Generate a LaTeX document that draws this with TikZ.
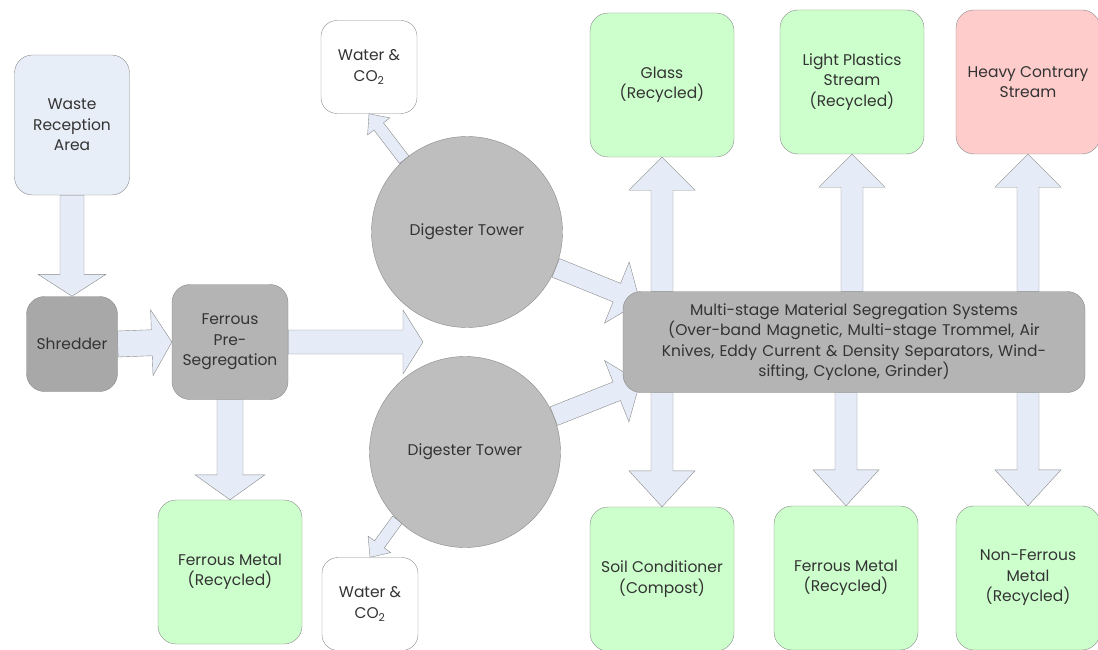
\documentclass[tikz,border=0pt]{standalone}
\usepackage{fontspec}
\setmainfont{Poppins}
\usepackage{tikz}
\usetikzlibrary{calc,backgrounds}

\definecolor{recycgreen}{HTML}{CCFFCC}
\definecolor{contrapink}{HTML}{FFCCCC}
\definecolor{inblue}{HTML}{E8EEF8}
\definecolor{flowblue}{HTML}{E6ECF7}
\definecolor{procgrey}{HTML}{B4B4B4}
\definecolor{shredgrey}{HTML}{A8A8A8}
\definecolor{towergrey}{HTML}{BEBEBE}
\definecolor{edgegrey}{HTML}{8A8A8A}

% block arrow: start, tip, shaft half-width, head half-width, head length
\newcommand{\blockarrow}[5]{%
  \path (#1) coordinate (ba-s) (#2) coordinate (ba-t);
  \coordinate (ba-h) at ($(ba-t)!#5!(ba-s)$);
  \draw[flow] ($(ba-s)!#3!90:(ba-t)$) -- ($(ba-h)!#3!90:(ba-t)$)
    -- ($(ba-h)!#4!90:(ba-t)$) -- (ba-t) -- ($(ba-h)!#4!-90:(ba-t)$)
    -- ($(ba-h)!#3!-90:(ba-t)$) -- ($(ba-s)!#3!-90:(ba-t)$) -- cycle;}

\begin{document}
\begin{tikzpicture}[
    x=1pt, y=-1pt,
    box/.style={draw=edgegrey,rounded corners=18pt,align=center,inner sep=2pt,
                font=\fontsize{15.5}{20.5}\selectfont,text=black!80},
    recyc/.style={box,fill=recycgreen,minimum width=144pt,minimum height=144pt},
    proc/.style={box,fill=procgrey},
    gas/.style={box,fill=white,minimum width=96pt,minimum height=93pt,
                rounded corners=16pt},
    tower/.style={circle,draw=edgegrey,fill=towergrey,minimum size=191pt,
                  font=\fontsize{15.5}{20.5}\selectfont,text=black!80},
    flow/.style={draw=edgegrey,fill=flowblue,line join=miter},
  ]
  \useasboundingbox (0,0) rectangle (1098,650);

  % --- intake line (left) ---
  \node[box,fill=inblue,minimum width=115pt,minimum height=140pt] (waste) at (72,125)
    {Waste\\Reception\\Area};
  \node[box,fill=shredgrey,minimum width=91pt,minimum height=95pt] (shred) at (72,344)
    {Shredder};
  \node[proc,minimum width=116pt,minimum height=115pt] (fps) at (230,342)
    {Ferrous\\Pre-\\Segregation};
  \node[recyc] (fmA) at (230,572) {Ferrous Metal\\(Recycled)};

  % --- digester towers ---
  \node[tower] (dtA) at (467,232) {Digester Tower};
  \node[tower] (dtB) at (465,452) {Digester Tower};
  \node[gas] (wA) at (369,67)  {Water \&\\CO\textsubscript{2}};
  \node[gas] (wB) at (370,604) {Water \&\\CO\textsubscript{2}};
  \coordinate (fork) at (423,342);

  % --- segregation and its output streams ---
  \node[proc,minimum width=462pt,minimum height=101pt,text width=452pt] (multi) at (854,342)
    {Multi-stage Material Segregation Systems\\(Over-band Magnetic, Multi-stage Trommel, Air\\
     Knives, Eddy Current \& Density Separators, Wind-\\sifting, Cyclone, Grinder)};
  \coordinate (inA) at (640,302);
  \coordinate (inB) at (640,382);

  \node[recyc] (glass) at (662,85) {Glass\\(Recycled)};
  \node[recyc] (plast) at (852,82) {Light Plastics\\Stream\\(Recycled)};
  \node[box,fill=contrapink,minimum width=144pt,minimum height=144pt] (heavy) at (1028,82)
    {Heavy Contrary\\Stream};
  \node[recyc] (soil) at (662,579) {Soil Conditioner\\(Compost)};
  \node[recyc] (fmB)  at (846,578) {Ferrous Metal\\(Recycled)};
  \node[recyc] (nfm)  at (1028,578) {Non-Ferrous\\Metal\\(Recycled)};

  % --- flows, behind the boxes ---
  \begin{scope}[on background layer]
    \blockarrow{waste.south}{shred.north}{12pt}{34pt}{22pt}
    \blockarrow{shred.east}{fps.west}{13pt}{33pt}{20pt}
    \blockarrow{fps.east}{fork}{12pt}{32pt}{20pt}
    \blockarrow{fps.south}{fmA.north}{13pt}{35pt}{25pt}
    \blockarrow{dtA.-22}{inA}{10pt}{33pt}{25pt}
    \blockarrow{dtB.22}{inB}{10pt}{33pt}{25pt}
    \blockarrow{dtA.131}{wA.south}{6pt}{14pt}{16pt}
    \blockarrow{dtB.-135}{wB.north}{6pt}{14pt}{16pt}
    \blockarrow{glass.south |- multi.north}{glass.south}{11pt}{33pt}{33pt}
    \blockarrow{plast.south |- multi.north}{plast.south}{11pt}{33pt}{33pt}
    \blockarrow{heavy.south |- multi.north}{heavy.south}{11pt}{33pt}{33pt}
    \blockarrow{soil.north |- multi.south}{soil.north}{11pt}{33pt}{36pt}
    \blockarrow{fmB.north |- multi.south}{fmB.north}{11pt}{33pt}{36pt}
    \blockarrow{nfm.north |- multi.south}{nfm.north}{11pt}{33pt}{36pt}
  \end{scope}
\end{tikzpicture}
\end{document}
